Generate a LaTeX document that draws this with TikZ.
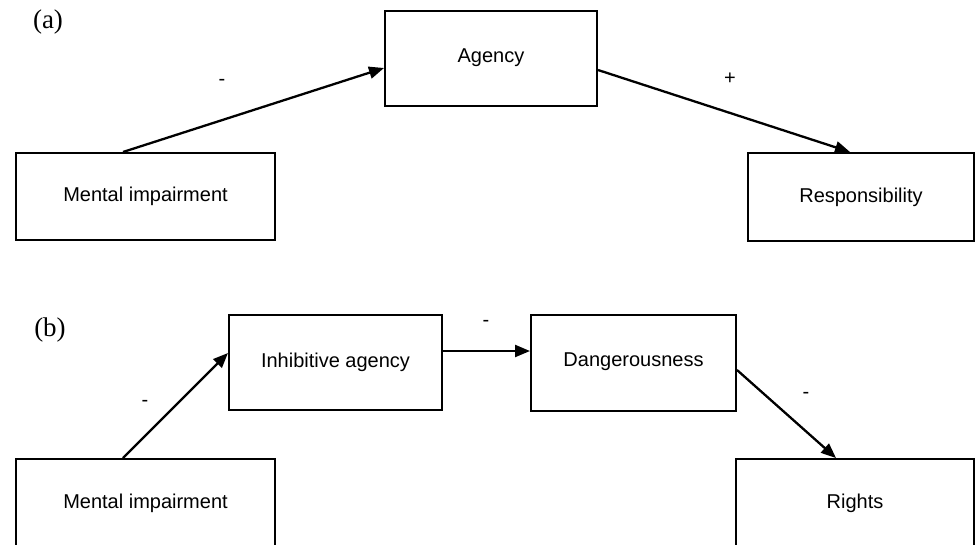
\documentclass[tikz,border=0pt]{standalone}
\usepackage{fontspec}
\setmainfont{Liberation Sans}
\newfontfamily\seriffont{Liberation Serif}
\usetikzlibrary{arrows.meta,calc}
\begin{document}
\begin{tikzpicture}[x=1pt,y=-1pt,
  box/.style={draw=black,line width=2pt,rectangle,inner sep=0pt,
    font=\fontsize{20}{24}\selectfont},
  conn/.style={line width=2.3pt,-{Triangle[length=15pt,width=12pt]}},
  sign/.style={inner sep=0pt,font=\fontsize{20}{24}\selectfont},
  panel/.style={inner sep=0pt,font=\seriffont\fontsize{27}{30}\selectfont}]
\useasboundingbox (0,0) rectangle (975,544);
\clip (0,0) rectangle (975,544);
% panel (a)
\node[panel] (pa) at (48,22) {(a)};
\node[box,minimum width=212pt,minimum height=95pt] (ag) at (491,58.5) {\raisebox{6pt}{Agency}};
\node[box,minimum width=259pt,minimum height=87pt] (mia) at (145.5,196.5) {Mental impairment};
\node[box,minimum width=226pt,minimum height=88pt] (resp) at (861,197) {Responsibility};
\draw[conn] ([xshift=-22.5pt]mia.north) -- ([yshift=-9.5pt]ag.west);
\draw[conn] ([yshift=-11.5pt]ag.east) -- ([xshift=-11pt]resp.north);
\node[sign] (s1) at (222,82) {-};
\node[sign] (s2) at (730,79) {+};
% panel (b)
\node[panel] (pb) at (50,330) {(b)};
\node[box,minimum width=213pt,minimum height=95pt] (ia) at (335.5,362.5) {\raisebox{5pt}{Inhibitive agency}};
\node[box,minimum width=205pt,minimum height=96pt] (dg) at (633.5,363) {\raisebox{7pt}{Dangerousness}};
\node[box,minimum width=259pt,minimum height=88pt] (mib) at (145.5,503) {Mental impairment};
\node[box,minimum width=238pt,minimum height=88pt] (rt) at (855,503) {Rights};
\draw[conn] ([xshift=-22.5pt]mib.north) -- ([yshift=9.5pt]ia.west);
\draw[conn] ([yshift=11.5pt]ia.east) -- ([yshift=12pt]dg.west);
\draw[conn] ([yshift=-7pt]dg.east) -- ([xshift=-19pt]rt.north);
\node[sign] (s3) at (145,403) {-};
\node[sign] (s4) at (486,323) {-};
\node[sign] (s5) at (806,395) {-};
\end{tikzpicture}
\end{document}
